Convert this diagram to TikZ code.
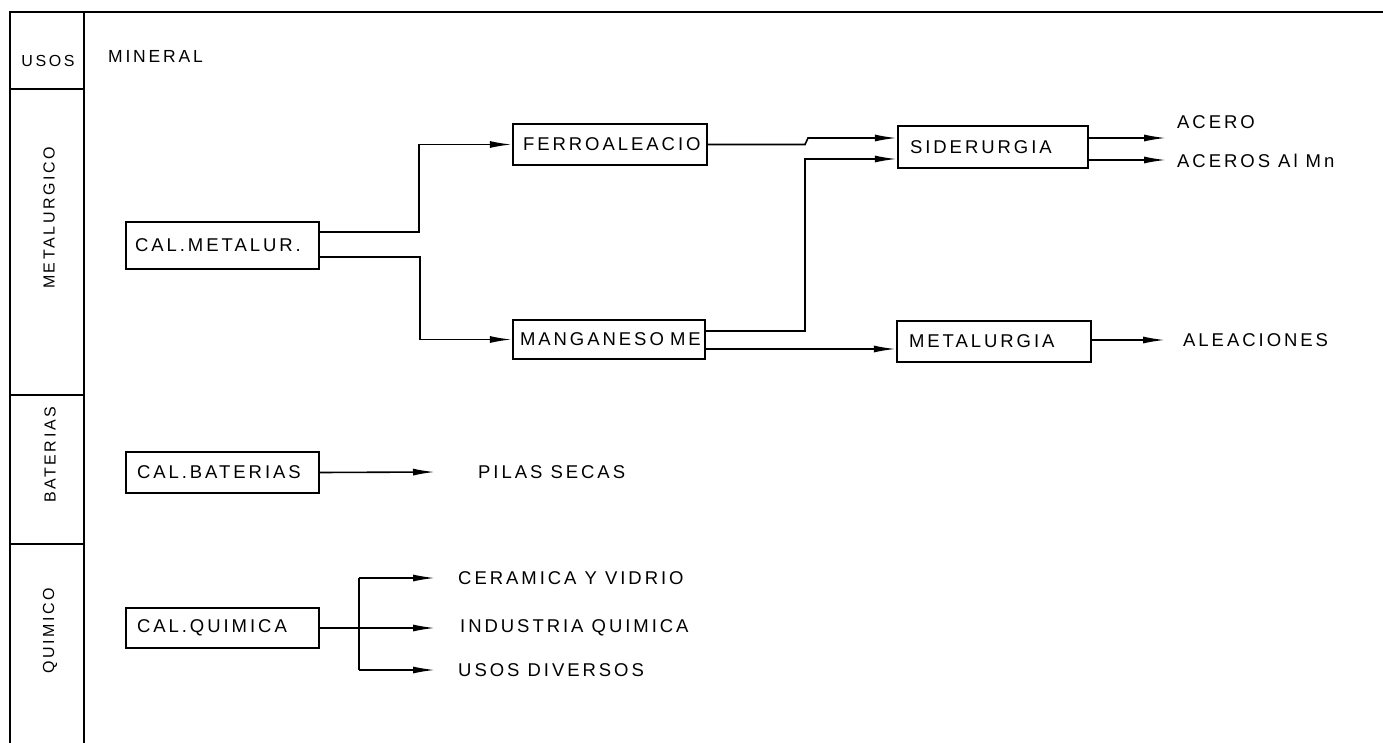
\documentclass[tikz,border=0pt]{standalone}
\usepackage{fontspec}
\setmainfont{Liberation Sans}[LetterSpace=16]
\usetikzlibrary{arrows.meta}
\begin{document}
\begin{tikzpicture}[x=1pt,y=-1pt,
  frame/.style={line width=2pt},
  boxnode/.style={draw,line width=2.3pt,inner xsep=11pt,inner ysep=0pt,align=left,font=\fontsize{18.5}{20}\selectfont},
  lbl/.style={anchor=west,inner sep=0pt,font=\fontsize{18.5}{20}\selectfont},
  collbl/.style={inner sep=0pt,font=\fontsize{16}{18}\selectfont},
  conn/.style={line width=1.6pt},
  arr/.style={conn,-{Latex[length=22pt,width=7pt]}}]
\useasboundingbox (0,0) rectangle (1383,743);
% frame of the table
\draw[frame,line width=2.6pt] (9,12) -- (1383,12);
\draw[frame] (10,12) -- (10,743);
\draw[frame] (84,12) -- (84,743);
\draw[frame] (10,89) -- (84,89);
\draw[frame] (10,395) -- (84,395);
\draw[frame] (10,544) -- (84,544);
% column labels
\node[collbl,font=\fontsize{16}{18}\selectfont] (usos) at (48,61) {USOS};
\node[lbl,font=\fontsize{17.5}{19}\selectfont] (mineral) at (108,56) {MINERAL};
\node[collbl,rotate=90] (colmet) at (49,218) {METALURGICO};
\node[collbl,rotate=90] (colbat) at (50,455) {BATERIAS};
\node[collbl,rotate=90] (colqui) at (50,631) {QUIMICO};
% boxes
\node[boxnode,inner xsep=9pt,text width=175pt,minimum height=47pt] (calmet) at (222.5,245.5) {CAL.METALUR.};
\node[boxnode,inner xsep=10pt,text width=174pt,minimum height=41pt] (ferro) at (610,144.5) {FERROALEACIO};
\node[boxnode,inner xsep=7pt,text width=178pt,minimum height=39pt] (mang) at (609,339.5) {\mbox{MANGANESO ME}};
\node[boxnode,inner xsep=12pt,text width=166pt,minimum height=42pt] (sid) at (993,147) {SIDERURGIA};
\node[boxnode,inner xsep=12pt,text width=170pt,minimum height=41pt] (metal) at (994,341.5) {METALURGIA};
\node[boxnode,text width=171pt,minimum height=41pt] (calbat) at (222.5,472.5) {CAL.BATERIAS};
\node[boxnode,text width=171pt,minimum height=40pt] (calqui) at (222.5,628) {CAL.QUIMICA};
% output labels
\node[lbl] (acero) at (1177,122) {ACERO};
\node[lbl] (aceros) at (1177,161) {ACEROS Al Mn};
\node[lbl] (aleac) at (1183,340) {ALEACIONES};
\node[lbl] (pilas) at (478,472) {PILAS SECAS};
\node[lbl] (ceram) at (458,578) {CERAMICA Y VIDRIO};
\node[lbl] (indus) at (460,628) {INDUSTRIA QUIMICA};
\node[lbl] (usosd) at (458,670) {USOS DIVERSOS};
% free arrow ends
\coordinate (tacero) at (1166,138);
\coordinate (taceros) at (1166,160);
\coordinate (taleac) at (1165,340);
\coordinate (tpilas) at (435,472);
\coordinate (tceram) at (435,578);
\coordinate (tindus) at (435,628);
\coordinate (tusosd) at (435,670);
\coordinate (qsplit) at (359,628);
% connectors
\draw[arr] (calmet.east |- 0,232) -- (419,232) |- (ferro.west);
\draw[arr] (calmet.east |- 0,257) -- (420,257) |- (mang.west);
\draw[arr] (ferro.east) -- (805,144.5) -- (808,138) -- (sid.west |- 0,138);
\draw[arr] (mang.east |- 0,331) -- (805,331) |- (sid.west |- 0,159);
\draw[arr] (mang.east |- 0,349) -- (metal.west |- 0,349);
\draw[arr] (sid.east |- tacero) -- (tacero);
\draw[arr] (sid.east |- taceros) -- (taceros);
\draw[arr] (metal.east |- taleac) -- (taleac);
\draw[arr] (calbat.east) -- (tpilas);
\draw[arr] (calqui.east) -- (tindus);
\draw[conn] (qsplit |- tceram) -- (qsplit |- tusosd);
\draw[arr] (qsplit |- tceram) -- (tceram);
\draw[arr] (qsplit |- tusosd) -- (tusosd);
\end{tikzpicture}
\end{document}
